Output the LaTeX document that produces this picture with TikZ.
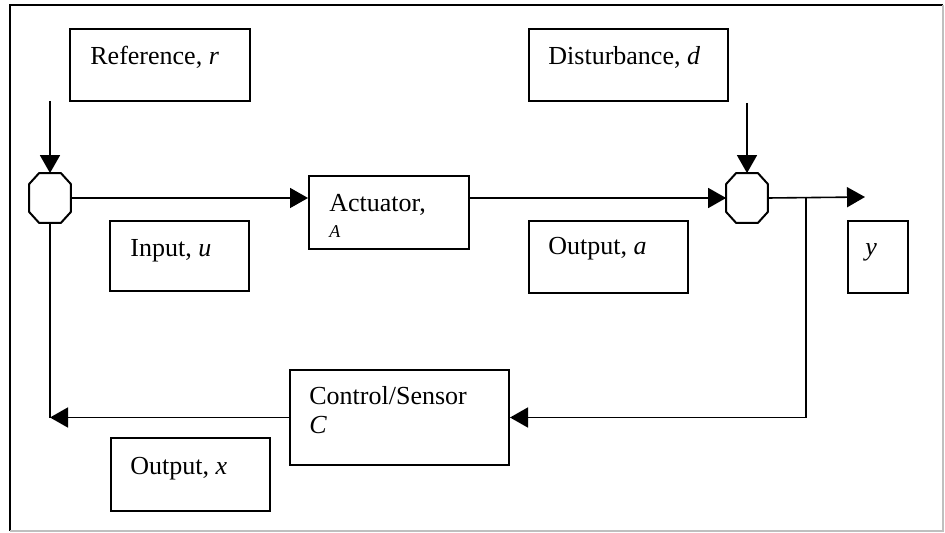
\documentclass[tikz,border=0pt]{standalone}
\usepackage{fontspec}
\setmainfont{Liberation Serif}
\usetikzlibrary{arrows.meta}
\tikzset{blk/.style = {draw, line width=1pt, anchor=north west, inner sep=0pt}}
\tikzset{txt/.style = {anchor=base west, align=left, inner sep=0pt,
                       font=\fontsize{13}{14}\selectfont}}
\tikzset{sum/.style = {inner sep=0pt, minimum width=20.5pt, minimum height=24.5pt}}
\tikzset{wire/.style = {line width=0.8pt}}
\tikzset{sig/.style = {wire, -{Triangle[length=9pt, width=10pt]}}}
\newcommand{\smallit}[1]{{\fontsize{9}{10}\selectfont\textit{#1}}}

\begin{document}
\begin{tikzpicture}[x=0.5pt, y=-0.5pt]
    \useasboundingbox (0,0) rectangle (945,533);

    % page frame
    \draw [line width=0.8pt] (10,531) |- (943,5);
    \draw [line width=0.8pt, gray!50] (943,5) |- (10,531);

    % blocks and their captions (base = last line)
    \node [blk, minimum width=90pt, minimum height=36pt] (ref) at (69,28) {};
    \node [txt] (reftxt) at ([shift={(10.5pt,-18.5pt)}]ref.north west) {Reference, \textit{r}};

    \node [blk, minimum width=99.5pt, minimum height=36pt] (dist) at (528,28) {};
    \node [txt] (disttxt) at ([shift={(10pt,-18.5pt)}]dist.north west) {Disturbance, \textit{d}};

    \node [blk, minimum width=80pt, minimum height=36.5pt] (act) at (308,175) {};
    \node [txt] (acttxt) at ([shift={(10.5pt,-31.5pt)}]act.north west) {Actuator,\\[-1pt]\smallit{A}};

    \node [blk, minimum width=69.5pt, minimum height=35pt] (inp) at (109,220) {};
    \node [txt] (inptxt) at ([shift={(10.5pt,-18.5pt)}]inp.north west) {Input, \textit{u}};

    \node [blk, minimum width=79.5pt, minimum height=36pt] (outa) at (528,220) {};
    \node [txt] (outatxt) at ([shift={(10pt,-17.5pt)}]outa.north west) {Output, \textit{a}};

    \node [blk, minimum width=30pt, minimum height=36pt] (ybox) at (847,220) {};
    \node [txt] (ytxt) at ([shift={(9pt,-18pt)}]ybox.north west) {\textit{y}};

    \node [blk, minimum width=109.5pt, minimum height=47.5pt] (ctrl) at (289,369) {};
    \node [txt] (ctrltxt) at ([shift={(10pt,-32pt)}]ctrl.north west) {Control/Sensor\\[0.5pt]\textit{C}};

    \node [blk, minimum width=79.5pt, minimum height=36.5pt] (outx) at (110,437) {};
    \node [txt] (outxtxt) at ([shift={(10pt,-18.5pt)}]outx.north west) {Output, \textit{x}};

    % summing junctions, drawn as octagons round the nodes
    \node [sum] (sum1) at (50,198) {};
    \node [sum] (sum2) at (747,198) {};
    \foreach \s in {sum1,sum2} {
      \draw [line width=1pt] ([xshift=5pt]\s.north west) -- ([xshift=-5pt]\s.north east)
        -- ([yshift=-5.5pt]\s.north east) -- ([yshift=5.5pt]\s.south east)
        -- ([xshift=-5pt]\s.south east) -- ([xshift=5pt]\s.south west)
        -- ([yshift=5.5pt]\s.south west) -- ([yshift=-5.5pt]\s.north west) -- cycle;
    }

    \coordinate (rin) at (50,101);
    \coordinate (din) at (747,103);
    \coordinate (yout) at (865,197);
    \coordinate (tap) at (806,197);

    % signal flow
    \draw [sig] (rin) -- (sum1.north);
    \draw [sig] (sum1.east) -- (sum1.east -| act.west);
    \draw [sig] (sum2.west -| act.east) -- (sum2.west);
    \draw [sig] (din) -- (sum2.north);
    \draw [sig] (sum2.east) -- (yout);

    % feedback loop
    \draw [sig] (tap) |- (ctrl.east);
    \draw [sig] (ctrl.west) -- (ctrl.west -| sum1.south);
    \draw [wire] (sum1.south) -- (sum1.south |- ctrl.west);
\end{tikzpicture}
\end{document}
